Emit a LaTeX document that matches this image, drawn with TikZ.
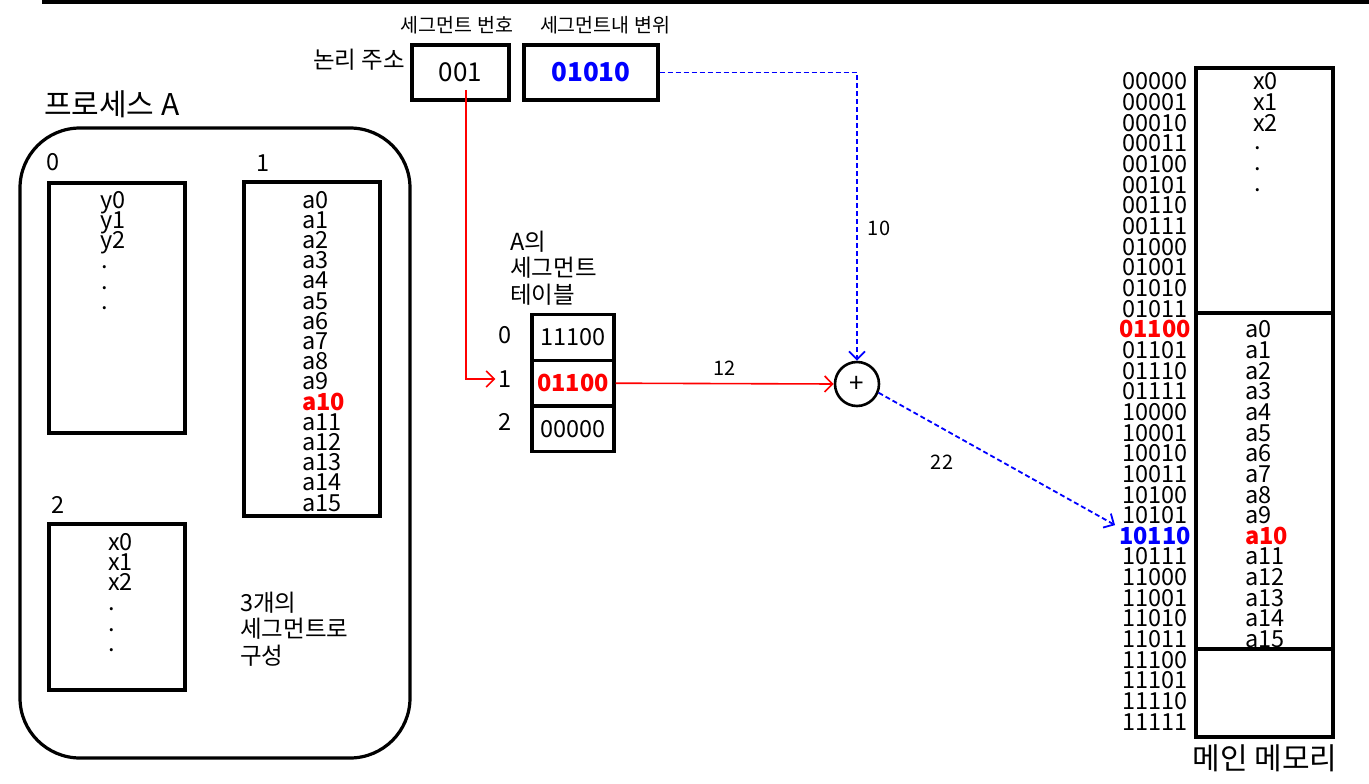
\documentclass[tikz,border=0pt]{standalone}
\usepackage{fontspec}
\setmainfont{Noto Sans CJK KR}
\usetikzlibrary{arrows.meta}
\begin{document}
\begin{tikzpicture}[x=1pt,y=-1pt,
  txt/.style={font=\fontsize{23.5}{23.5}\selectfont, inner sep=0pt},
  txtb/.style={font=\fontsize{23.5}{23.5}\selectfont\bfseries, inner sep=0pt},
  row/.style={text height=17pt, text depth=1pt},
  lbl/.style={font=\fontsize{20}{20}\selectfont, inner sep=0pt},
  sml/.style={font=\fontsize{19.5}{19.5}\selectfont, inner sep=0pt},
  big/.style={font=\fontsize{30}{30}\selectfont, inner sep=0pt},
  box/.style={draw, line width=3.2pt, inner sep=0pt},
  redarr/.style={red, line width=1.6pt, -{Straight Barb[length=8pt,width=16pt]}},
  bluearr/.style={blue, line width=1.8pt, dash pattern=on 5pt off 3pt, -{Straight Barb[length=8pt,width=16pt]}}]
\useasboundingbox (0,0) rectangle (1369,784);
\fill (42,0) rectangle (1369,4);
% logical address
\node[sml] (lseg) at (457,25) {세그먼트 번호};
\node[sml] (loff) at (605,25) {세그먼트내 변위};
\node[txt, anchor=east] (lla) at (405,60) {논리 주소};
\node[box, minimum width=97pt, minimum height=55pt, font=\fontsize{26}{26}\selectfont] (nseg) at (460.5,72.5) {001};
\node[box, minimum width=134pt, minimum height=55pt, font=\fontsize{26}{26}\selectfont\bfseries, text=blue] (noff) at (591,72.5) {01010};
% process A
\node[big, anchor=west] (pA) at (44,104) {프로세스 A};
\node[draw, line width=3.2pt, rounded corners=60pt, minimum width=390pt, minimum height=630pt] (proc) at (215,443) {};
\node[txt] (s0l) at (53,162) {0};
\node[txt] (s1l) at (263,163) {1};
\node[txt] (s2l) at (58,505) {2};
\node[box, minimum width=136pt, minimum height=250pt] (seg0) at (117,308) {};
\node[box, minimum width=136pt, minimum height=334pt] (seg1) at (312,349) {};
\node[box, minimum width=136pt, minimum height=166pt] (seg2) at (117,607) {};
\foreach \t [count=\i from 0] in {y0,y1,y2} {\node[txt, row, anchor=west] (sy\i) at (100,{200+\i*20.3}) {\t};}
\foreach \i in {3,4,5} {\node[txt, row, anchor=base west] (syd\i) at (101,{200+\i*20.3+8}) {.};}
\foreach \i in {0,...,15} {
  \ifnum\i=10
    \node[txtb, row, anchor=west, text=red] (sa\i) at (302,{200+\i*20.2}) {a\i};
  \else
    \node[txt, row, anchor=west] (sa\i) at (302,{200+\i*20.2}) {a\i};
  \fi}
\foreach \t [count=\i from 0] in {x0,x1,x2} {\node[txt, row, anchor=west] (sx\i) at (108,{542+\i*20.3}) {\t};}
\foreach \i in {3,4,5} {\node[txt, row, anchor=base west] (sxd\i) at (108,{542+\i*20.3+8}) {.};}
\node[txt, anchor=west, align=left] (cons) at (240,629) {3개의\\[3pt]세그먼트로\\[3pt]구성};
% segment table
\node[txt, anchor=west, align=left] (tt) at (510,268) {A의\\[3pt]세그먼트\\[3pt]테이블};
\node[box, minimum width=82pt, minimum height=45.7pt, txt] (t0) at (573,337.5) {11100};
\node[box, minimum width=82pt, minimum height=45.7pt, txtb, text=red] (t1) at (573,383.2) {01100};
\node[box, minimum width=82pt, minimum height=45.7pt, txt] (t2) at (573,428.9) {00000};
\node[txt] (i0) at (505,335) {0};
\node[txt] (i1) at (505,379) {1};
\node[txt] (i2) at (505,422) {2};
% adder
\node[draw, circle, line width=2.6pt, minimum size=44pt, inner sep=0pt, font=\fontsize{26}{26}\selectfont] (plus) at (857,384) {+};
% main memory
\node[box, minimum width=137pt, minimum height=245pt] (m0) at (1264.5,190.5) {};
\node[box, minimum width=137pt, minimum height=336pt] (m1) at (1264.5,481) {};
\node[box, minimum width=137pt, minimum height=88pt] (m2) at (1264.5,693) {};
\foreach \a [count=\i from 0] in {00000,00001,00010,00011,00100,00101,00110,00111,01000,01001,01010,01011,01100,01101,01110,01111,10000,10001,10010,10011,10100,10101,10110,10111,11000,11001,11010,11011,11100,11101,11110,11111} {
  \ifnum\i=12
    \node[txtb, row, anchor=east, text=red] (ad\i) at (1191,{82+\i*20.65}) {\a};
  \else\ifnum\i=22
    \node[txtb, row, anchor=east, text=blue] (ad\i) at (1191,{82+\i*20.65}) {\a};
  \else
    \node[txt, row, anchor=east] (ad\i) at (1188,{82+\i*20.65}) {\a};
  \fi\fi}
\foreach \t [count=\i from 0] in {x0,x1,x2} {\node[txt, row, anchor=west] (mx\i) at (1253,{82+\i*20.65}) {\t};}
\foreach \i in {3,4,5} {\node[txt, row, anchor=base west] (mxd\i) at (1254,{82+\i*20.65+6}) {.};}
\foreach \i in {0,...,15} {
  \ifnum\i=10
    \node[txtb, row, anchor=west, text=red] (ma\i) at (1245,{82+(\i+12)*20.65}) {a\i};
  \else
    \node[txt, row, anchor=west] (ma\i) at (1245,{82+(\i+12)*20.65}) {a\i};
  \fi}
\node[big] (mm) at (1265,758) {메인 메모리};
% connectors
\coordinate (rs) at (466,90);
\draw[redarr] (rs) |- ([xshift=-3pt]i1.west);
\draw[redarr] (t1.east) -- node[lbl, above=7pt, text=black] (l12) {12} (plus.west);
\draw[bluearr] (noff.east) -| (plus.north);
\node[lbl] (l10) at (879,228) {10};
\draw[bluearr] (plus.-22) -- ([xshift=-4pt,yshift=2pt]ad22.north west);
\node[lbl] (l22) at (942,462) {22};
\end{tikzpicture}
\end{document}
